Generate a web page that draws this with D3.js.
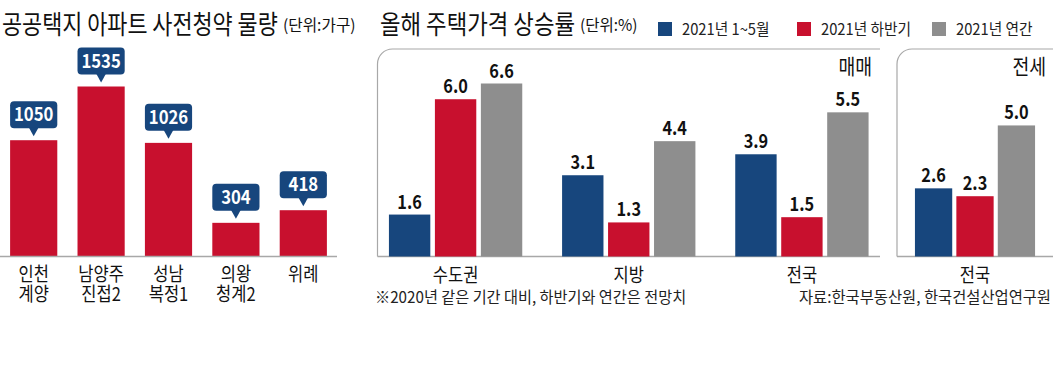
<!DOCTYPE html>
<html>
<head>
<meta charset="utf-8">
<script src="https://cdn.jsdelivr.net/npm/d3@7"></script>
<style>
  body { margin: 0; background: #fff; }
  svg { display: block; font-family: "Noto Sans CJK KR", sans-serif; }
</style>
</head>
<body>
<svg id="chart" width="1053" height="365"></svg>
<script>
// ---- data ----
var siteNames = [["인천", "계양"], ["남양주", "진접2"], ["성남", "복정1"], ["의왕", "청계2"], ["위례"]];
var siteUnits = [1050, 1535, 1026, 304, 418];

var regions = ["수도권", "지방", "전국"];
var periods = ["2021년 1~5월", "2021년 하반기", "2021년 연간"];
var saleRates = [[1.6, 6.0, 6.6], [3.1, 1.3, 4.4], [3.9, 1.5, 5.5]];
var rentRegions = ["전국"];
var rentRates = [[2.6, 2.3, 5.0]];

var colors = ["#17467d", "#c8102e", "#8e8e8e"];
var baseY = 256.5;

var svg = d3.select("#chart");

// condensed text helper
function label(g, x, y, str, size, opt) {
  opt = opt || {};
  return g.append("text")
      .attr("transform", "translate(" + x + "," + y + ") scale(" + (opt.sx || 0.85) + ",1)")
      .attr("text-anchor", opt.anchor || "start")
      .style("font-size", size + "px")
      .style("font-weight", opt.bold ? "bold" : "normal")
      .style("fill", opt.fill || "#111")
      .text(str);
}

/************ LEFT: 사전청약 물량 ************/
var left = svg.append("g");

label(left, 2, 34, "공공택지 아파트 사전청약 물량", 26, {sx: 0.84});
label(left, 283, 31, "(단위:가구)", 16, {sx: 0.98});

var x1 = d3.scaleBand()
    .domain(d3.range(siteUnits.length))
    .range([0, 337])
    .paddingInner(0.3)
    .paddingOuter(0.15);

var y1 = d3.scaleLinear()
    .domain([0, 1535])
    .range([baseY, 86.5]);

left.selectAll("rect.bar")
    .data(siteUnits)
  .enter().append("rect")
    .attr("class", "bar")
    .attr("x", function(d, i) { return x1(i); })
    .attr("width", x1.bandwidth())
    .attr("y", function(d) { return y1(d); })
    .attr("height", function(d) { return baseY - y1(d); })
    .style("fill", colors[1]);

left.append("line")
    .attr("x1", 0).attr("x2", 337)
    .attr("y1", baseY).attr("y2", baseY)
    .style("stroke", "#a8a8a8")
    .style("stroke-width", "1.5px");

// callout boxes
var boxes = left.selectAll("g.box")
    .data(siteUnits)
  .enter().append("g")
    .attr("class", "box");

boxes.append("rect")
    .attr("x", function(d, i) { return x1(i); })
    .attr("width", x1.bandwidth())
    .attr("y", function(d) { return y1(d) - 39; })
    .attr("height", 27)
    .attr("rx", 4)
    .style("fill", colors[0]);

boxes.append("path")
    .attr("d", function(d, i) {
      var cx = x1(i) + x1.bandwidth() / 2, t = y1(d);
      return "M" + (cx - 5) + "," + (t - 13) + "L" + cx + "," + (t - 4) + "L" + (cx + 5) + "," + (t - 13) + "Z";
    })
    .style("fill", colors[0]);

boxes.each(function(d, i) {
  label(d3.select(this), x1(i) + x1.bandwidth() / 2, y1(d) - 19, d, 19,
        {anchor: "middle", bold: true, fill: "#fff", sx: 0.88});
});

// two-line category names, one text element each
siteNames.forEach(function(lines, i) {
  var cx = x1(i) + x1.bandwidth() / 2;
  var t = left.append("text")
      .attr("transform", "translate(" + cx + ",281) scale(0.87,1)")
      .attr("text-anchor", "middle")
      .style("font-size", "19px")
      .style("fill", "#111");
  lines.forEach(function(s, j) {
    t.append("tspan")
        .attr("x", 0)
        .attr("dy", j === 0 ? 0 : 20)
        .text(s);
  });
});

/************ RIGHT: 주택가격 상승률 ************/
var right = svg.append("g");

label(right, 380, 34, "올해 주택가격 상승률", 26, {sx: 0.86});
label(right, 580, 31, "(단위:%)", 16, {sx: 0.97});

// legend
var legendX = [658, 797, 932];
periods.forEach(function(p, i) {
  right.append("rect")
      .attr("x", legendX[i]).attr("y", 22)
      .attr("width", 14).attr("height", 14)
      .style("fill", colors[i]);
  label(right, legendX[i] + 24, 35, p, 16, {sx: 0.92, fill: "#222"});
});

var y2 = d3.scaleLinear()
    .domain([0, 6.6])
    .range([baseY, 83.5]);

function panel(x0, x1p, cats, values, outer) {
  var g = right.append("g");

  g.append("path")
      .attr("d", "M" + x0 + "," + baseY + "V64A15,15 0 0 1 " + (x0 + 15) + ",49H" + x1p)
      .style("fill", "none")
      .style("stroke", "#a8a8a8")
      .style("stroke-width", "1.2px");

  g.append("line")
      .attr("x1", x0).attr("x2", x1p)
      .attr("y1", baseY).attr("y2", baseY)
      .style("stroke", "#a8a8a8")
      .style("stroke-width", "1.5px");

  var gx = d3.scaleBand()
      .domain(cats)
      .range([x0, x1p])
      .paddingInner(0.23)
      .paddingOuter(outer);

  var sx = d3.scaleBand()
      .domain(d3.range(periods.length))
      .range([0, gx.bandwidth()])
      .paddingInner(0.1);

  var groups = g.selectAll("g.grp")
      .data(values)
    .enter().append("g")
      .attr("class", "grp")
      .attr("transform", function(d, i) { return "translate(" + gx(cats[i]) + ",0)"; });

  groups.selectAll("rect")
      .data(function(d) { return d; })
    .enter().append("rect")
      .attr("x", function(d, i) { return sx(i); })
      .attr("width", sx.bandwidth())
      .attr("y", function(d) { return y2(d); })
      .attr("height", function(d) { return baseY - y2(d); })
      .style("fill", function(d, i) { return colors[i]; });

  groups.each(function(vals) {
    var grp = d3.select(this);
    vals.forEach(function(v, i) {
      label(grp, sx(i) + sx.bandwidth() / 2, y2(v) - 6, d3.format(".1f")(v), 19,
            {anchor: "middle", bold: true, sx: 0.86});
    });
  });

  cats.forEach(function(c) {
    label(g, gx(c) + gx.bandwidth() / 2, 282, c, 19, {anchor: "middle", sx: 0.87});
  });

  return g;
}

var sale = panel(377.5, 880, regions, saleRates, 0.066);
label(sale, 872, 74, "매매", 21, {anchor: "end", sx: 0.87});

var rent = panel(897, 1053, rentRegions, rentRates, 0.063);
label(rent, 1046, 74, "전세", 21, {anchor: "end", sx: 0.87});

label(right, 375, 303, "※2020년 같은 기간 대비, 하반기와 연간은 전망치", 16, {sx: 0.95, fill: "#222"});
label(right, 1051, 303, "자료:한국부동산원, 한국건설산업연구원", 16, {anchor: "end", sx: 0.96, fill: "#222"});
</script>
</body>
</html>
